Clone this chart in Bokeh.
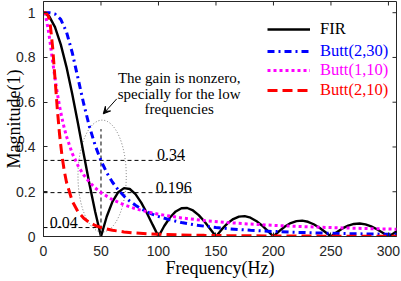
from bokeh.plotting import figure
from bokeh.models import (Range1d, FixedTicker, Legend, LegendItem, Arrow, VeeHead)
from bokeh.embed import file_html
from bokeh.resources import INLINE
from bokeh.core.properties import value

# ---------------- data ----------------
fir_freq = list(range(0, 315, 5))
fir_mag = [1.0, 0.9836, 0.9355, 0.8584, 0.7568, 0.6366, 0.5046, 0.3679, 0.2339, 0.1093,
           0.0, 0.0894, 0.1559, 0.1981, 0.2162, 0.2122, 0.1892, 0.1515, 0.1039, 0.0518,
           0.0, 0.0468, 0.0850, 0.1120, 0.1261, 0.1273, 0.1164, 0.0954, 0.0668, 0.0339,
           0.0, 0.0317, 0.0585, 0.0780, 0.0890, 0.0909, 0.0841, 0.0696, 0.0492, 0.0252,
           0.0, 0.0240, 0.0445, 0.0599, 0.0688, 0.0707, 0.0658, 0.0548, 0.0390, 0.0201,
           0.0, 0.0193, 0.0360, 0.0486, 0.0561, 0.0579, 0.0541, 0.0452, 0.0323, 0.0167,
           0.0, 0.0161, 0.0302]

b230_freq = [0, 5, 10, 15, 20, 25, 30, 35, 40, 45, 50, 55, 60, 65, 70, 75, 80, 85, 90, 95,
             100, 110, 120, 130, 140, 150, 160, 170, 180, 190, 200, 220, 240, 260, 280, 300, 310]
b230_mag = [1.0, 0.9996, 0.9939, 0.9701, 0.9138, 0.8214, 0.7071, 0.5921, 0.4903, 0.4061,
            0.3387, 0.2852, 0.2425, 0.2083, 0.1807, 0.1580, 0.1393, 0.1236, 0.1104, 0.0992,
            0.0896, 0.0742, 0.0624, 0.0532, 0.0459, 0.0400, 0.0351, 0.0311, 0.0278, 0.0249,
            0.0225, 0.0186, 0.0156, 0.0133, 0.0115, 0.0100, 0.0094]

lp_freq = [0, 2, 4, 5, 6, 8, 10, 12, 14, 16, 18, 20, 25, 30, 35, 40, 45, 50, 60, 70, 80, 90,
           100, 120, 140, 160, 180, 200, 220, 240, 260, 280, 300, 310]
b110_mag = [1.0, 0.9806, 0.9285, 0.8944, 0.8575, 0.7809, 0.7071, 0.6402, 0.5812, 0.5300,
            0.4856, 0.4472, 0.3714, 0.3162, 0.2747, 0.2425, 0.2169, 0.1961, 0.1644, 0.1414,
            0.1240, 0.1104, 0.0995, 0.0830, 0.0712, 0.0624, 0.0555, 0.0499, 0.0454, 0.0416,
            0.0384, 0.0357, 0.0333, 0.0322]
b210_mag = [1.0, 0.9992, 0.9875, 0.9701, 0.9409, 0.8423, 0.7071, 0.5704, 0.4545, 0.3638,
            0.2949, 0.2425, 0.1580, 0.1104, 0.0814, 0.0624, 0.0493, 0.0400, 0.0278, 0.0204,
            0.0156, 0.0123, 0.0100, 0.0069, 0.0051, 0.0039, 0.0031, 0.0025, 0.0021, 0.0017,
            0.0015, 0.0013, 0.0011, 0.0010]

series_names = ["FIR", "Butt(2,30)", "Butt(1,10)", "Butt(2,10)"]

x_ticks = [0, 50, 100, 150, 200, 250, 300]
y_ticks = [0, 0.2, 0.4, 0.6, 0.8, 1]
y_tick_labels = ["0", "0.2", "0.4", "0.6", "0.8", "1"]

ref_levels = [0.34, 0.196, 0.04]
ref_level_text = ["0.34", "0.196", "0.04"]
ref_ends = [123, 129, 50]
note_lines = ["The gain is nonzero,", "specially for the low", "frequencies"]

# ---------------- figure ----------------
axis_col = "#262626"
serif = "Liberation Serif"
sans = "Liberation Sans"
X_MAX, Y_MAX = 307, 1.05
FRAME_W, FRAME_H = 353, 235

p = figure(width=401, height=281, output_backend="svg", toolbar_location=None,
           x_range=Range1d(0, X_MAX), y_range=Range1d(0, Y_MAX),
           min_border_left=43, min_border_right=5, min_border_top=1, min_border_bottom=45,
           background_fill_color="white", border_fill_color="white")
p.grid.visible = False
p.outline_line_color = axis_col

for ax, ticks in ((p.xaxis[0], x_ticks), (p.yaxis[0], y_ticks)):
    ax.ticker = FixedTicker(ticks=ticks)
    ax.major_tick_in = 4
    ax.major_tick_out = 0
    ax.minor_tick_in = 0
    ax.minor_tick_out = 0
    ax.axis_line_color = axis_col
    ax.major_tick_line_color = axis_col
    ax.major_label_text_font = sans
    ax.major_label_text_font_size = "14px"
    ax.major_label_text_color = axis_col
    ax.axis_label_text_font = serif
    ax.axis_label_text_font_size = "18px"
    ax.axis_label_text_font_style = "normal"
    ax.axis_label_text_color = "black"

p.xaxis[0].major_label_standoff = 9
p.xaxis[0].axis_label = "Frequency(Hz)"
p.xaxis[0].axis_label_standoff = -1
p.yaxis[0].major_label_standoff = 8
p.yaxis[0].major_label_overrides = dict(zip(y_ticks, y_tick_labels))
p.yaxis[0].axis_label = "Magnitude(1)"
p.yaxis[0].axis_label_standoff = -11

# mirrored inward ticks on the top and right edges (4 px long)
tx = 4 * X_MAX / FRAME_W
ty = 4 * Y_MAX / FRAME_H
p.segment(x0=x_ticks, y0=[Y_MAX] * len(x_ticks), x1=x_ticks, y1=[Y_MAX - ty] * len(x_ticks),
          line_color=axis_col, line_width=1)
p.segment(x0=[X_MAX] * len(y_ticks), y0=y_ticks, x1=[X_MAX - tx] * len(y_ticks), y1=y_ticks,
          line_color=axis_col, line_width=1)

# ---------------- annotations ----------------
p.segment(x0=[0, 0, 0], y0=ref_levels, x1=ref_ends, y1=ref_levels,
          line_color="black", line_width=1, line_dash="4 3")
p.segment(x0=[50], y0=[0], x1=[50], y1=[0.48],
          line_color="black", line_width=1, line_dash="4 3")
p.ellipse(x=[51], y=[0.27], width=[42], height=[0.5], fill_color=None,
          line_color="#555555", line_width=0.8, line_dash="1 2")

# ---------------- curves ----------------
r_fir = p.line(fir_freq, fir_mag, line_color="black", line_width=2.4)
r_b230 = p.line(b230_freq, b230_mag, line_color="#0000FF", line_width=3, line_dash="7 4 2 4")
r_b110 = p.line(lp_freq, b110_mag, line_color="#FF00FF", line_width=3, line_dash="3 3")
r_b210 = p.line(lp_freq, b210_mag, line_color="#FF0000", line_width=3, line_dash="10 5")

p.text(x=[123, 129], y=ref_levels[:2], text=ref_level_text[:2], text_align="right",
       text_baseline="bottom", text_font=value(serif), text_font_size=value("16px"),
       text_color="black")
p.text(x=[5.5], y=ref_levels[2:], text=ref_level_text[2:], text_align="left",
       text_baseline="bottom", text_font=value(serif), text_font_size=value("16px"),
       text_color="black")
p.text(x=[118, 118, 118], y=[0.708, 0.637, 0.569], text=note_lines,
       text_align="center", text_baseline="middle", text_font=value(serif),
       text_font_size=value("15px"), text_color="black")
p.add_layout(Arrow(x_start=63.7, y_start=0.615, x_end=52, y_end=0.548,
                   line_color="black", line_width=1,
                   end=VeeHead(size=7, fill_color="black", line_color="black")))

# ---------------- legends (one per entry for coloured text) ----------------
leg_colors = ["black", "#0000FF", "#FF00FF", "#FF0000"]
leg_bottoms = [197, 175.5, 156.5, 136.5]
for name, r, c, yb in zip(series_names, [r_fir, r_b230, r_b110, r_b210], leg_colors, leg_bottoms):
    leg = Legend(items=[LegendItem(label=name, renderers=[r])], location=(224, yb),
                 label_text_color=c, label_text_font=serif, label_text_font_size="16.5px",
                 border_line_color=None, background_fill_alpha=0, padding=0, margin=0,
                 glyph_width=43, glyph_height=18, label_height=18, label_standoff=10,
                 spacing=0)
    p.add_layout(leg, "center")

open("out.html", "w").write(file_html(p, INLINE))
